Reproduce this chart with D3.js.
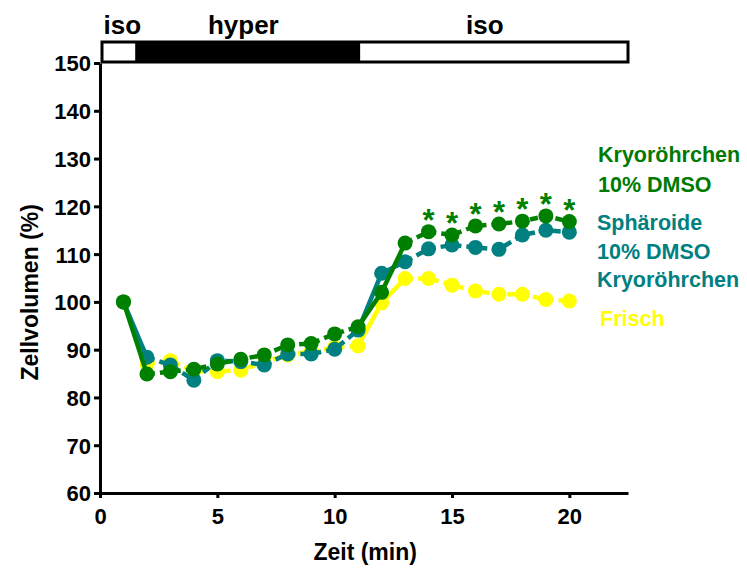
<!DOCTYPE html>
<html>
<head>
<meta charset="utf-8">
<script src="https://cdn.jsdelivr.net/npm/d3@7"></script>
<style>
  body { margin: 0; background: #fff; }
  text { font-family: Arial, "Liberation Sans", sans-serif; font-weight: bold; }
</style>
</head>
<body>
<div class="chart"></div>
<script>
const W = 747, H = 571;
const margin = {top: 63, right: 119, bottom: 78, left: 100};

// time points (min)
const zeit = [1, 2, 3, 4, 5, 6, 7, 8, 9, 10, 11, 12, 13, 14, 15, 16, 17, 18, 19, 20];
// Zellvolumen (%)
const kryoDMSO    = [100, 84.9, 85.4, 85.9, 87.0, 88.0, 88.9, 91.0, 91.3, 93.3, 94.8, 102.0, 112.3, 114.7, 114.0, 115.9, 116.3, 116.9, 118.0, 116.8];
const sphaeroide  = [100, 88.4, 86.8, 83.6, 87.7, 87.5, 86.8, 89.1, 89.1, 90.1, 94.1, 106.0, 108.4, 111.1, 111.9, 111.4, 111.0, 114.0, 115.0, 114.6];
const frisch      = [100, 87.0, 87.7, 85.6, 85.4, 85.7, 87.4, 88.9, 89.6, 90.5, 90.8, 99.8, 104.9, 104.9, 103.5, 102.3, 101.6, 101.6, 100.5, 100.2];
// time points with significance marks
const sigZeit = [14, 15, 16, 17, 18, 19, 20];

const yTicks = [60, 70, 80, 90, 100, 110, 120, 130, 140, 150];
const xTicks = [0, 5, 10, 15, 20];

// osmotic phases shown in the bar above the plot
const phaseLabels = ["iso", "hyper", "iso"];
const phaseStart  = [0, 1.5, 11];
const phaseEnd    = [1.5, 11, 22.5];
const phaseLabelX = [0.15, 4.6, 15.6];

// segments drawn solid (start index), the rest dashed
const solidSegs = [0, 10, 11];

const series = [
    {name: "frisch", values: frisch, color: "#ffff00"},
    {name: "sphaeroide", values: sphaeroide, color: "#008080"},
    {name: "kryo", values: kryoDMSO, color: "#008000"}
];

const legendLines = [
    {text: "Kryoröhrchen", color: "#007a00", x: 598, y: 162},
    {text: "10% DMSO", color: "#007a00", x: 598, y: 192},
    {text: "Sphäroide", color: "#008080", x: 597, y: 230},
    {text: "10% DMSO", color: "#008080", x: 597, y: 259},
    {text: "Kryoröhrchen", color: "#008080", x: 597, y: 287},
    {text: "Frisch", color: "#ffff00", x: 600, y: 326}
];

const svg = d3.select(".chart").append("svg")
    .attr("width", W)
    .attr("height", H);

const x = d3.scaleLinear().domain([0, 22.5]).range([margin.left, W - margin.right]);
const y = d3.scaleLinear().domain([60, 150]).range([H - margin.bottom, margin.top]);

// phase bar
const barTop = 42, barH = 20;
svg.append("rect")
    .attr("x", x(0) + 2)
    .attr("y", barTop)
    .attr("width", x(22.5) - x(0) - 2)
    .attr("height", barH)
    .attr("fill", "#fff")
    .attr("stroke", "#000")
    .attr("stroke-width", 3);
svg.append("rect")
    .attr("x", x(phaseStart[1]))
    .attr("y", barTop)
    .attr("width", x(phaseEnd[1]) - x(phaseStart[1]) + 2)
    .attr("height", barH)
    .attr("fill", "#000");
svg.selectAll(".phase")
    .data(phaseLabels)
    .join("text")
    .attr("class", "phase")
    .attr("x", (d, i) => x(phaseLabelX[i]))
    .attr("y", 34)
    .style("font-size", "26px")
    .text(d => d);

// axes
const yAxis = svg.append("g")
    .attr("transform", `translate(${x(0)},0)`)
    .call(d3.axisLeft(y).tickValues(yTicks).tickSize(6).tickSizeOuter(0).tickPadding(3));
const xAxis = svg.append("g")
    .attr("transform", `translate(0,${y(60)})`)
    .call(d3.axisBottom(x).tickValues(xTicks).tickSize(5).tickSizeOuter(0).tickPadding(10));
[yAxis, xAxis].forEach(a => {
    a.selectAll("path, line").attr("stroke", "#000").attr("stroke-width", 3);
    a.selectAll("text").attr("fill", "#000").style("font-size", "22px").style("font-family", "Arial, 'Liberation Sans', sans-serif").style("font-weight", "bold");
});
yAxis.selectAll("text").attr("dy", "0.36em");

svg.append("text")
    .attr("transform", `translate(38,${y(102)}) rotate(-90)`)
    .attr("text-anchor", "middle")
    .style("font-size", "23px")
    .text("Zellvolumen (%)");
svg.append("text")
    .attr("x", x(11.3))
    .attr("y", 560)
    .attr("text-anchor", "middle")
    .style("font-size", "23px")
    .text("Zeit (min)");

// lines and points
const line = d3.line().x(d => x(d[0])).y(d => y(d[1]));
series.forEach(s => {
    const pts = zeit.map((t, i) => [t, s.values[i]]);
    const g = svg.append("g");
    solidSegs.forEach(i => {
        g.append("path")
            .attr("d", line([pts[i], pts[i + 1]]))
            .attr("fill", "none")
            .attr("stroke", s.color)
            .attr("stroke-width", 4.5);
    });
    // dashed runs between solid segments
    [[1, 10], [12, 19]].forEach(r => {
        g.append("path")
            .attr("d", line(pts.slice(r[0], r[1] + 1)))
            .attr("fill", "none")
            .attr("stroke", s.color)
            .attr("stroke-width", 4.5)
            .attr("stroke-dasharray", "8,5");
    });
    g.selectAll("circle")
        .data(pts)
        .join("circle")
        .attr("cx", d => x(d[0]))
        .attr("cy", d => y(d[1]))
        .attr("r", 7.5)
        .attr("fill", s.color);
});

// significance stars
svg.selectAll(".star")
    .data(sigZeit)
    .join("text")
    .attr("class", "star")
    .attr("x", d => x(d))
    .attr("y", d => y(kryoDMSO[zeit.indexOf(d)]) - 1)
    .attr("text-anchor", "middle")
    .attr("fill", "#008000")
    .style("font-size", "31px")
    .text("*");

// legend
svg.selectAll(".legend")
    .data(legendLines)
    .join("text")
    .attr("class", "legend")
    .attr("x", d => d.x)
    .attr("y", d => d.y)
    .attr("fill", d => d.color)
    .style("font-size", "21.5px")
    .text(d => d.text);
</script>
</body>
</html>
